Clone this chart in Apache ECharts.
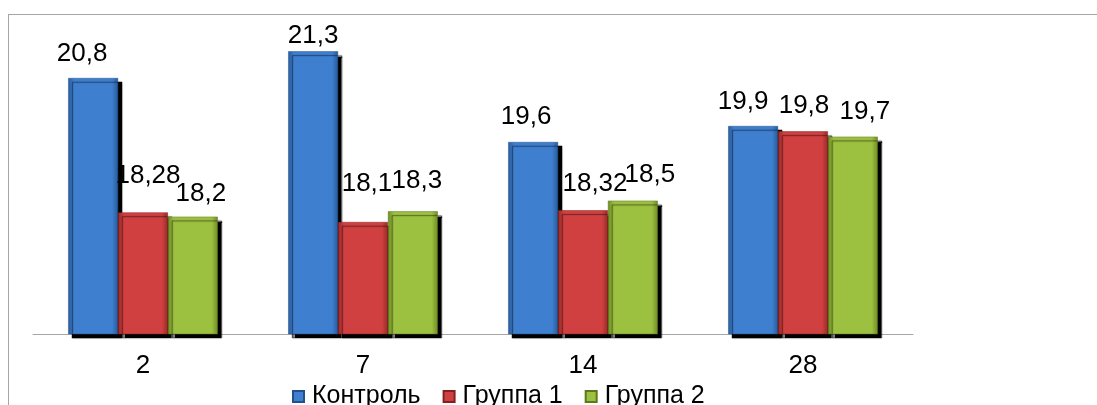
<!DOCTYPE html>
<html>
<head>
<meta charset="utf-8">
<script src="https://cdn.jsdelivr.net/npm/echarts@6/dist/echarts.min.js"></script>
<style>
  html, body { margin: 0; padding: 0; background: #fff; }
  #frame { position: absolute; left: 8px; top: 14px; width: 1200px; height: 500px; border: 1px solid #a6a6a6; box-sizing: border-box; }
  #chart { position: absolute; left: 0; top: 0; width: 1097px; height: 405px; }
</style>
</head>
<body>
<div id="frame"></div>
<div id="chart"></div>
<script>
// Days of observation
const categories = ['2', '7', '14', '28'];
const seriesNames = ['Контроль', 'Группа 1', 'Группа 2'];
const control = [20.8, 21.3, 19.6, 19.9];
const group1 = [18.28, 18.1, 18.32, 19.8];
const group2 = [18.2, 18.3, 18.5, 19.7];

// hand-placed value labels: [dx, dy] nudges per bar
const labelNudge = [
  [[-11, 1], [0, 9], [-7, 0], [-10, 1]],
  [[5, -12], [4, -13], [12, -1], [1, -1]],
  [[8, 2], [4, -6], [17, -1], [12, 0]]
];

const FONT = 'Liberation Sans, Arial, sans-serif';

const palette = [
  { edge: '#285a9c', mid: '#3f7fcf', border: '#22508a' },
  { edge: '#9c2828', mid: '#d04040', border: '#862020' },
  { edge: '#6f8c24', mid: '#9cc040', border: '#5e771c' }
];

function fill(p) {
  return new echarts.graphic.LinearGradient(0, 0, 1, 0, [
    { offset: 0, color: p.edge },
    { offset: 0.12, color: p.mid },
    { offset: 0.88, color: p.mid },
    { offset: 1, color: p.edge }
  ]);
}

function makeSeries(idx, data) {
  const p = palette[idx];
  return {
    name: seriesNames[idx],
    type: 'bar',
    data: data.map(function (v, i) {
      return { value: v, label: { offset: labelNudge[idx][i] } };
    }),
    barGap: '0%',
    barCategoryGap: '32%',
    itemStyle: {
      color: fill(p),
      borderColor: p.border,
      borderWidth: 0.5,
      shadowColor: 'rgba(0,0,0,1)',
      shadowBlur: 1,
      shadowOffsetX: 4,
      shadowOffsetY: 4
    },
    label: {
      show: true,
      position: 'top',
      distance: 12,
      color: '#000',
      fontFamily: FONT,
      fontSize: 26,
      formatter: function (prm) { return String(prm.value).replace('.', ','); }
    }
  };
}

const chart = echarts.init(document.getElementById('chart'), null, { renderer: 'canvas' });
chart.setOption({
  animation: false,
  textStyle: { fontFamily: FONT },
  grid: { left: 33, right: 184, top: 14, bottom: 71, containLabel: false },
  legend: {
    top: 379,
    left: 287,
    itemWidth: 11,
    itemHeight: 11,
    itemGap: 22,
    icon: 'rect',
    textStyle: { fontSize: 25, color: '#000', fontFamily: FONT, padding: [0, 0, 0, 3] },
    data: seriesNames
  },
  xAxis: {
    type: 'category',
    data: categories,
    axisLine: { lineStyle: { color: '#a6a6a6', width: 1 } },
    axisTick: { show: false },
    axisLabel: { color: '#000', fontSize: 26, fontFamily: FONT, margin: 19 }
  },
  yAxis: {
    type: 'value',
    min: 16,
    max: 22,
    show: false,
    splitLine: { show: false }
  },
  series: [
    makeSeries(0, control),
    makeSeries(1, group1),
    makeSeries(2, group2)
  ]
});
</script>
</body>
</html>
